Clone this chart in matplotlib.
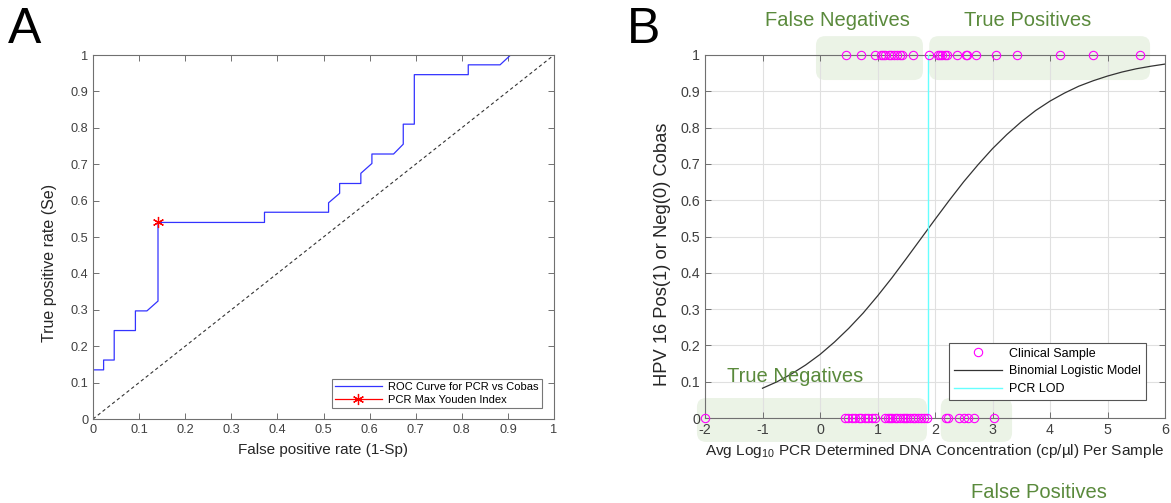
import numpy as np
import matplotlib
matplotlib.use('Agg')
import matplotlib.pyplot as plt
from matplotlib.patches import FancyBboxPatch

plt.rcParams['font.family'] = ['Liberation Sans', 'DejaVu Sans']
plt.rcParams['mathtext.default'] = 'regular'
plt.rcParams['axes.unicode_minus'] = False

# ROC curve (panel A)
roc_fpr = [0, 0, 0.023, 0.023, 0.046, 0.046, 0.092, 0.092, 0.117, 0.141, 0.141,
           0.372, 0.372, 0.511, 0.511, 0.535, 0.535, 0.581, 0.581, 0.605, 0.605,
           0.652, 0.673, 0.673, 0.697, 0.697, 0.814, 0.814, 0.883, 0.906, 0.928]
roc_tpr = [0, 0.135, 0.135, 0.162, 0.162, 0.243, 0.243, 0.297, 0.297, 0.324, 0.54,
           0.54, 0.568, 0.568, 0.594, 0.62, 0.647, 0.647, 0.675, 0.702, 0.728,
           0.728, 0.755, 0.81, 0.81, 0.946, 0.946, 0.973, 0.973, 1.0, 1.0]
youden_fpr = [0.141]
youden_tpr = [0.54]

# clinical samples (panel B)
pos_conc = [0.45, 0.71, 0.96, 1.06, 1.09, 1.13, 1.2, 1.23, 1.29, 1.34, 1.39, 1.42,
            1.61, 1.89, 2.05, 2.09, 2.13, 2.17, 2.21, 2.39, 2.54, 2.56, 2.71,
            3.06, 3.43, 4.17, 4.74, 5.57]
neg_conc = [-2.0, 0.44, 0.49, 0.55, 0.61, 0.67, 0.72, 0.78, 0.84, 0.9, 0.96,
            1.13, 1.18, 1.22, 1.26, 1.3, 1.34, 1.39, 1.44, 1.48, 1.52, 1.57,
            1.61, 1.66, 1.71, 1.76, 1.8, 1.86, 2.19, 2.23, 2.42, 2.5, 2.58,
            2.67, 3.03]

# binomial logistic model
model_x = [-1, -0.75, -0.5, -0.25, 0, 0.25, 0.5, 0.75, 1, 1.25, 1.5, 1.75, 2,
           2.25, 2.5, 2.75, 3, 3.25, 3.5, 3.75, 4, 4.25, 4.5, 4.75, 5, 5.25,
           5.5, 5.75, 6]
model_y = [0.082, 0.0996, 0.121, 0.146, 0.175, 0.209, 0.247, 0.289, 0.336,
           0.386, 0.439, 0.493, 0.547, 0.600, 0.651, 0.698, 0.742, 0.781,
           0.816, 0.847, 0.873, 0.895, 0.914, 0.929, 0.942, 0.953, 0.962,
           0.969, 0.975]
lod = 1.87

green_txt = '#5a8a3c'
green_box = '#ebf3e6'
spine_col = '#707070'
tick_col = '#404040'
label_col = '#262626'

fig = plt.figure(figsize=(11.71, 5.03), dpi=100)
ax1 = fig.add_axes([93 / 1171, 1 - 419 / 503, 461 / 1171, 364 / 503])
ax2 = fig.add_axes([705 / 1171, 1 - 418 / 503, 460 / 1171, 363 / 503])

# ---- panel A
ax1.plot([0, 1], [0, 1], '--', color='#333333', lw=0.8, dashes=(3, 2.5))
ax1.plot(roc_fpr, roc_tpr, color='#3333ff', lw=0.9, label='ROC Curve for PCR vs Cobas')
ax1.plot(youden_fpr, youden_tpr, '-', color='red', marker=(6, 2, 0), ms=8,
         mew=0.9, lw=0.9, label='PCR Max Youden Index')
ax1.set_xlim(0, 1)
ax1.set_ylim(0, 1)
ticks = np.arange(0, 1.01, 0.1)
ax1.set_xticks(ticks)
ax1.set_yticks(ticks)
ax1.set_xticklabels(['%g' % round(t, 1) for t in ticks])
ax1.set_yticklabels(['%g' % round(t, 1) for t in ticks])
ax1.set_xlabel('False positive rate (1-Sp)', fontsize=11, color=label_col, labelpad=5)
ax1.set_ylabel('True positive rate (Se)', fontsize=11.5, color=label_col, labelpad=5)
ax1.yaxis.set_label_coords(-0.078, 0.43)
leg1 = ax1.legend(loc='lower right', bbox_to_anchor=(0.974, 0.03), borderaxespad=0,
                  fontsize=8, fancybox=False, edgecolor='#555555', handlelength=4.2,
                  borderpad=0.3, labelspacing=0.25, handletextpad=0.6)
leg1.get_frame().set_linewidth(0.8)

# ---- panel B
boxes = [(-0.07, 0.931, 1.79, 1.052), (1.90, 0.931, 5.74, 1.052),
         (-2.14, -0.066, 1.86, 0.055), (2.10, -0.066, 3.34, 0.055)]
for x0, y0, x1, y1 in boxes:
    p = FancyBboxPatch((x0, y0), x1 - x0, y1 - y0,
                       boxstyle='round,pad=0,rounding_size=0.16',
                       mutation_aspect=57.5 / 363, fc=green_box, ec='none',
                       zorder=1, clip_on=False, transform=ax2.transData)
    ax2.add_patch(p)

ax2.plot(pos_conc, np.ones(len(pos_conc)), 'o', mfc='none', mec='#ff00ff', ms=6,
         mew=0.8, clip_on=False, zorder=4, label='Clinical Sample')
ax2.plot(neg_conc, np.zeros(len(neg_conc)), 'o', mfc='none', mec='#ff00ff', ms=6,
         mew=0.8, clip_on=False, zorder=4)
ax2.plot(model_x, model_y, color='#333333', lw=0.9, zorder=3, label='Binomial Logistic Model')
ax2.plot([lod, lod], [0, 1], color='#66ffff', lw=1.0, zorder=3, label='PCR LOD')
ax2.set_xlim(-2, 6)
ax2.set_ylim(0, 1)
ax2.set_xticks(np.arange(-2, 7, 1))
ax2.set_yticks(ticks)
ax2.set_yticklabels(['%g' % round(t, 1) for t in ticks])
ax2.grid(True, color='#e0e0e0', lw=0.8)
ax2.set_xlabel('Avg Log$_{10}$ PCR Determined DNA Concentration (cp/\u00b5l) Per Sample',
               fontsize=11.1, color=label_col, labelpad=4)
ax2.set_ylabel('HPV 16 Pos(1) or Neg(0) Cobas', fontsize=13.2, color=label_col)
ax2.yaxis.set_label_coords(-0.075, 0.45)
leg2 = ax2.legend(loc='lower right', bbox_to_anchor=(0.9587, 0.0496), borderaxespad=0,
                  fontsize=9, fancybox=False, edgecolor='#555555', handlelength=3.8,
                  borderpad=0.4, labelspacing=0.45, handletextpad=0.6, framealpha=1)
leg2.get_frame().set_linewidth(0.8)
leg2.set_zorder(6)

ax2.text(0.30, 1.094, 'False Negatives', color=green_txt, fontsize=14.5,
         ha='center', va='center')
ax2.text(3.61, 1.094, 'True Positives', color=green_txt, fontsize=14.5,
         ha='center', va='center')
ax2.text(-0.43, 0.114, 'True Negatives', color=green_txt, fontsize=14.5,
         ha='center', va='center', zorder=5)
ax2.text(3.80, -0.204, 'False Positives', color=green_txt, fontsize=14.5,
         ha='center', va='center')

for ax in (ax1, ax2):
    ax.set_facecolor('none')
    for s in ax.spines.values():
        s.set_color(spine_col)
        s.set_linewidth(0.8)
    ax.tick_params(direction='in', top=True, right=True, length=4, width=0.7,
                   color=spine_col, labelcolor=tick_col)
ax1.tick_params(labelsize=9.2)
ax2.tick_params(labelsize=10.3)

fig.text(8 / 1171, 1 - 43 / 503, 'A', fontsize=36, color='black')
fig.text(627 / 1171, 1 - 43 / 503, 'B', fontsize=36, color='black')

fig.savefig('out.png', dpi=100)
